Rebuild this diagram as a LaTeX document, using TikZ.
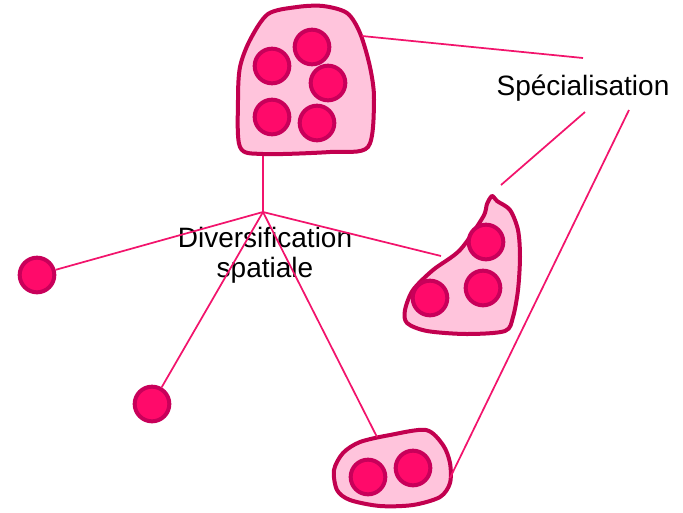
\documentclass[tikz,border=0pt]{standalone}
\usepackage{fontspec}
\setmainfont{Liberation Sans}
\usetikzlibrary{positioning}
\definecolor{spedge}{HTML}{C2004F}
\definecolor{spfill}{HTML}{FFC4DC}
\definecolor{spdot}{HTML}{FF0A6A}
\definecolor{spdotedge}{HTML}{C8005A}
\definecolor{spline}{HTML}{F2146C}
\tikzset{
  blob/.style  = {draw=spedge, line width=3pt, fill=spfill, line join=round},
  cell/.style  = {circle, draw=spdotedge, line width=3pt, fill=spdot,
                  minimum size=26pt, inner sep=0pt},
  lnk/.style   = {draw=spline, line width=1.3pt},
  lbl/.style   = {font=\fontsize{21}{22}\selectfont, align=center, inner sep=0pt},
}
\begin{document}
\begin{tikzpicture}[x=0.75pt,y=-0.75pt]
  \useasboundingbox (0,0) rectangle (683,512);

  % --- labels
  \node[lbl, anchor=base] (div) at (265,277) {Diversification\\spatiale};
  \node[lbl, anchor=base] (spe) at (583,95) {Spécialisation};

  % --- blobs
  \draw[blob] plot[smooth cycle, tension=0.5] coordinates {
    (268,14) (297,7) (323,6) (347,13) (360,33) (370,67) (374,100)
    (368,147) (330,152) (263,154) (240,147) (238,100) (240,67) (250,40)};
  \draw[blob] plot[smooth cycle, tension=0.5] coordinates {
    (492,196) (497,201) (510,210) (518,230) (520,257) (518,290) (513,317)
    (505,331) (467,334) (427,331) (407,323) (405,310) (413,290) (433,270)
    (460,250) (483,217) (487,204)};
  \draw[blob] plot[smooth cycle, tension=0.5] coordinates {
    (343,453) (360,442) (390,435) (426,430) (443,445) (450,463) (450,483)
    (440,497) (413,505) (380,506) (350,500) (337,490) (334,470)};

  % --- cells
  \foreach \n/\x/\y in {a/272/66, b/312/47, c/328/83, d/272/117, e/317/123,
                        f/486/242, g/483/288, h/430/298,
                        i/368/477, j/413/468,
                        k/37/275, l/152/404}{
    \node[cell] (cell\n) at (\x,\y) {};
  }

  % --- connectors
  \coordinate (hub) at (263,212);
  \coordinate (topS) at (263,156);
  \coordinate (topE) at (362,36);
  \coordinate (rgtW) at (441,256);
  \coordinate (rgtN) at (501,185);
  \coordinate (botN) at (377,437);
  \coordinate (botE) at (450,478);
  \coordinate (speW) at (583,58);
  \coordinate (speS) at (585,112);
  \coordinate (speE) at (629,110);
  \draw[lnk] (hub) -- (topS);
  \draw[lnk] (hub) -- (cellk);
  \draw[lnk] (hub) -- (celll);
  \draw[lnk] (hub) -- (botN);
  \draw[lnk] (hub) -- (rgtW);
  \draw[lnk] (topE) -- (speW);
  \draw[lnk] (speS) -- (rgtN);
  \draw[lnk] (speE) -- (botE);
\end{tikzpicture}
\end{document}
